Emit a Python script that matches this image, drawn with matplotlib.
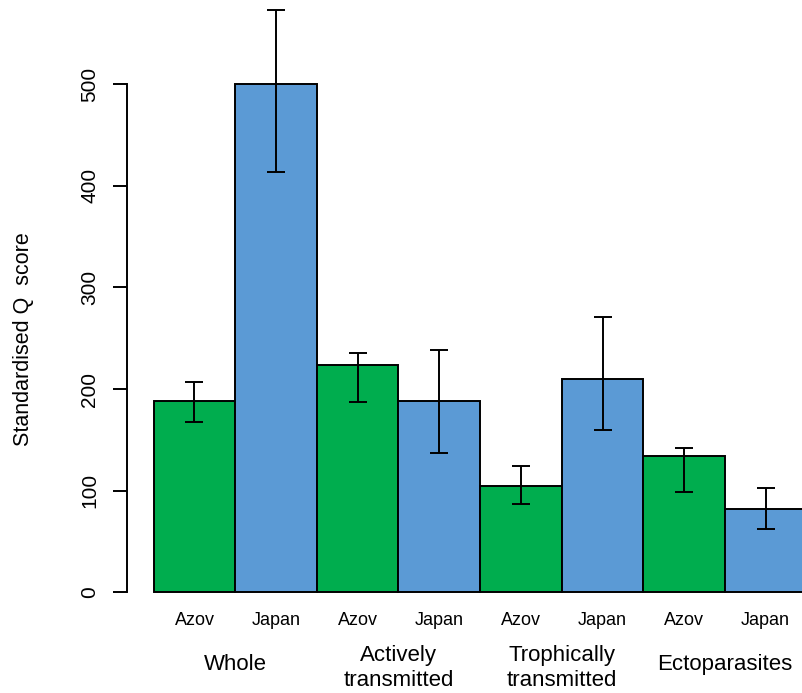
import matplotlib
matplotlib.use("Agg")
import matplotlib.pyplot as plt
import numpy as np

plt.rcParams['font.family'] = ['Liberation Sans', 'DejaVu Sans']

groups = ["Whole", "Actively\ntransmitted", "Trophically\ntransmitted", "Ectoparasites"]
sites = ["Azov", "Japan"]
azov = [188, 224, 105, 134]
japan = [500, 188, 210, 82]
azov_lo = [168, 187, 87, 99]
azov_hi = [207, 236, 124, 142]
japan_lo = [414, 137, 160, 62]
japan_hi = [573, 238, 271, 103]
yticks = [0, 100, 200, 300, 400, 500]

green = "#00AD4E"
blue = "#5B9AD5"

W, H = 803, 693
fig = plt.figure(figsize=(W / 100, H / 100), dpi=100)

# axis placed in pixel terms: y=0 at px 592, 1 unit ~ 1.016 px
ymin = -5
ax_bottom = 592.3 - ymin * 1.016
ax = fig.add_axes([127 / W, (H - ax_bottom) / H, 1 - 127 / W, ax_bottom / H])
ax.set_ylim(ymin, ax_bottom / 1.016 + ymin)
ax.set_xlim(-0.327, 7.957)

# interleave Azov / Japan for each group
vals = []
lo = []
hi = []
cols = []
for i in range(len(groups)):
    vals += [azov[i], japan[i]]
    lo += [azov_lo[i], japan_lo[i]]
    hi += [azov_hi[i], japan_hi[i]]
    cols += [green, blue]
vals = np.array(vals)
x = np.arange(len(vals)) + 0.5

ax.bar(x, vals, width=1.0, color=cols, edgecolor="black", linewidth=1.4, zorder=2)
ax.errorbar(x, vals, yerr=[vals - np.array(lo), np.array(hi) - vals], fmt="none",
            ecolor="black", elinewidth=1.4, capsize=6.7, capthick=1.4, zorder=3)

for s in ["top", "right", "bottom"]:
    ax.spines[s].set_visible(False)
ax.spines["left"].set_bounds(0, 500)
ax.spines["left"].set_linewidth(1.4)
ax.set_xticks([])
ax.set_yticks(yticks)
ax.set_yticklabels([str(t) for t in yticks], rotation=90, va="center", fontsize=15)
ax.tick_params(axis="y", length=10, width=1.4, pad=10)

# site labels under each bar, group labels under each pair
for xi, i in zip(x, range(len(x))):
    ax.text(xi, -27.3, sites[i % 2], ha="center", va="center", fontsize=13, clip_on=False)
for g in range(len(groups)):
    yy = -71.2 if "\n" not in groups[g] else -74.6
    ax.text(2 * g + 1, yy, groups[g], ha="center", va="center", fontsize=16,
            linespacing=1.2, clip_on=False)

fig.text(24 / W, (H - 339.5) / H, "Standardised Q  score", rotation=90,
         ha="center", va="center", fontsize=15.5)

fig.savefig("out.png", dpi=100)
